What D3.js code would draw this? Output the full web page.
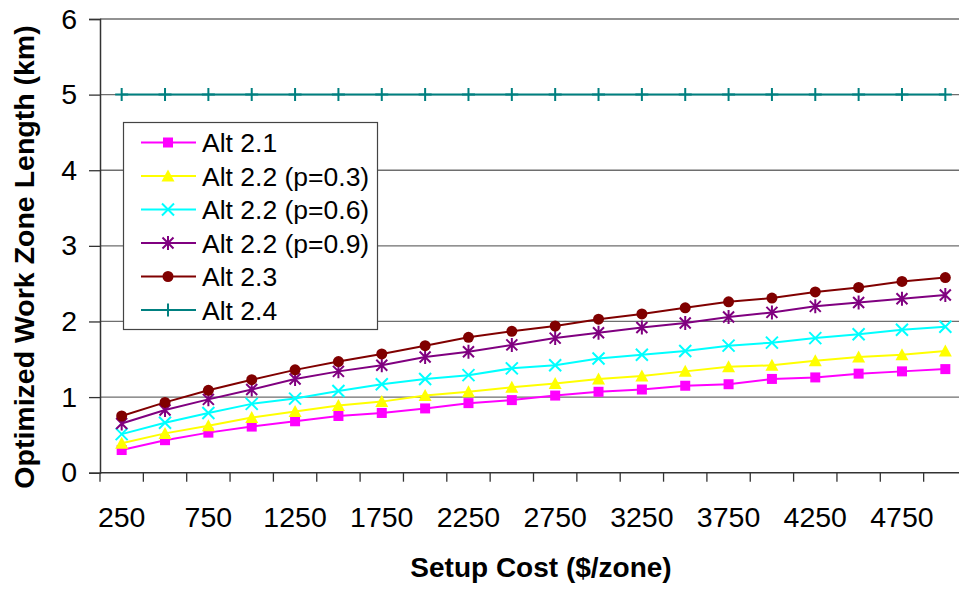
<!DOCTYPE html>
<html>
<head>
<meta charset="utf-8">
<script src="https://cdn.jsdelivr.net/npm/d3@7"></script>
<style>
  html, body { margin: 0; padding: 0; background: #fff; }
  svg { display: block; }
  text { font-family: "Liberation Sans", Arial, sans-serif; fill: #000; }
</style>
</head>
<body>
<svg id="chart" width="959" height="592"></svg>
<script>
// ---- data ----
const categories = [250, 500, 750, 1000, 1250, 1500, 1750, 2000, 2250, 2500,
                    2750, 3000, 3250, 3500, 3750, 4000, 4250, 4500, 4750, 5000];
const tickLabels = [250, 750, 1250, 1750, 2250, 2750, 3250, 3750, 4250, 4750];
const yTicks = [0, 1, 2, 3, 4, 5, 6];

const alt21 = [0.30, 0.43, 0.53, 0.61, 0.68, 0.75, 0.79, 0.85, 0.92, 0.96,
               1.02, 1.07, 1.10, 1.15, 1.17, 1.24, 1.26, 1.31, 1.34, 1.37];
const alt22p3 = [0.39, 0.52, 0.62, 0.73, 0.81, 0.89, 0.94, 1.02, 1.07, 1.13,
                 1.18, 1.24, 1.28, 1.34, 1.40, 1.42, 1.48, 1.53, 1.56, 1.61];
const alt22p6 = [0.51, 0.66, 0.79, 0.91, 0.98, 1.08, 1.17, 1.24, 1.29, 1.38,
                 1.42, 1.51, 1.56, 1.61, 1.68, 1.72, 1.78, 1.83, 1.89, 1.93];
const alt22p9 = [0.65, 0.83, 0.97, 1.10, 1.24, 1.34, 1.42, 1.53, 1.60, 1.69,
                 1.78, 1.85, 1.92, 1.98, 2.06, 2.12, 2.20, 2.25, 2.30, 2.35];
const alt23 = [0.75, 0.93, 1.09, 1.23, 1.36, 1.47, 1.57, 1.68, 1.79, 1.87,
               1.94, 2.03, 2.10, 2.18, 2.26, 2.31, 2.39, 2.45, 2.53, 2.58];
const alt24 = [5, 5, 5, 5, 5, 5, 5, 5, 5, 5, 5, 5, 5, 5, 5, 5, 5, 5, 5, 5];

const seriesNames = ["Alt 2.1", "Alt 2.2 (p=0.3)", "Alt 2.2 (p=0.6)", "Alt 2.2 (p=0.9)", "Alt 2.3", "Alt 2.4"];
const seriesValues = [alt21, alt22p3, alt22p6, alt22p9, alt23, alt24];
const seriesColors = ["#FF00FF", "#FFFF00", "#00FFFF", "#800080", "#800000", "#008080"];
const seriesMarkers = ["square", "triangle", "x", "asterisk", "circle", "plus"];

// ---- layout ----
const svg = d3.select("#chart");
const plotLeft = 100, plotRight = 967, plotTop = 19, plotBottom = 472.7;

const x = d3.scaleBand().domain(categories).range([plotLeft, plotRight]).padding(0);
const y = d3.scaleLinear().domain([0, 6]).range([plotBottom, plotTop]);

// gridlines
svg.append("g").selectAll("line").data(yTicks.filter(d => d > 0)).join("line")
  .attr("x1", plotLeft).attr("x2", plotRight)
  .attr("y1", d => y(d)).attr("y2", d => y(d))
  .attr("stroke", "#6e6e6e").attr("stroke-width", 1.3);

// y axis
const yAxis = svg.append("g").attr("transform", `translate(${plotLeft},0)`)
  .call(d3.axisLeft(y).tickValues(yTicks).tickSize(11).tickPadding(12).tickFormat(d3.format("d")));
yAxis.select(".domain").attr("stroke", "#333").attr("stroke-width", 1.5);
yAxis.selectAll(".tick line").attr("stroke", "#333").attr("stroke-width", 1.3);
yAxis.selectAll("text").style("font-size", "28.5px").attr("fill", "#000")
  .style("font-family", "'Liberation Sans', Arial, sans-serif");

// x axis: ticks at band boundaries
const xg = svg.append("g");
xg.append("line").attr("x1", plotLeft).attr("x2", plotRight).attr("y1", plotBottom).attr("y2", plotBottom)
  .attr("stroke", "#333").attr("stroke-width", 1.5);
xg.selectAll("line.tk").data(categories).join("line").attr("class", "tk")
  .attr("x1", d => x(d)).attr("x2", d => x(d))
  .attr("y1", plotBottom).attr("y2", plotBottom + 9)
  .attr("stroke", "#333").attr("stroke-width", 1.3);
xg.selectAll("text").data(tickLabels).join("text")
  .attr("x", d => x(d) + x.bandwidth() / 2)
  .attr("y", 527)
  .attr("text-anchor", "middle")
  .style("font-size", "28.5px")
  .text(d => d);

// axis titles
svg.append("text").attr("x", 541).attr("y", 577)
  .attr("text-anchor", "middle").style("font-size", "28px").style("font-weight", "bold")
  .text("Setup Cost ($/zone)");
svg.append("text").attr("transform", "translate(33.5,257) rotate(-90)")
  .attr("text-anchor", "middle").style("font-size", "28.5px").style("font-weight", "bold")
  .text("Optimized Work Zone Length (km)");

// marker drawing
function drawMarker(g, type, color) {
  if (type === "square") {
    g.append("rect").attr("x", -5).attr("y", -5).attr("width", 10).attr("height", 10).attr("fill", color);
  } else if (type === "triangle") {
    g.append("path").attr("d", "M0,-6.5L6.5,5.5L-6.5,5.5Z").attr("fill", color);
  } else if (type === "circle") {
    g.append("circle").attr("r", 5.5).attr("fill", color);
  } else if (type === "x") {
    g.append("path").attr("d", "M-6,-6L6,6M-6,6L6,-6").attr("stroke", color).attr("stroke-width", 2).attr("fill", "none");
  } else if (type === "asterisk") {
    g.append("path").attr("d", "M-5.5,-5.5L5.5,5.5M-5.5,5.5L5.5,-5.5M0,-7L0,7").attr("stroke", color).attr("stroke-width", 2).attr("fill", "none");
  } else if (type === "plus") {
    g.append("path").attr("d", "M0,-6.5L0,6.5M-6.5,0L6.5,0").attr("stroke", color).attr("stroke-width", 2).attr("fill", "none");
  }
}

const line = d3.line().x((d, i) => x(categories[i]) + x.bandwidth() / 2).y(d => y(d));

seriesValues.forEach((vals, si) => {
  const g = svg.append("g");
  g.append("path").datum(vals).attr("d", line)
    .attr("fill", "none").attr("stroke", seriesColors[si]).attr("stroke-width", 2);
  vals.forEach((v, i) => {
    const mg = g.append("g").attr("transform", `translate(${x(categories[i]) + x.bandwidth() / 2},${y(v)})`);
    drawMarker(mg, seriesMarkers[si], seriesColors[si]);
  });
});

// legend
const lg = svg.append("g");
lg.append("rect").attr("x", 123.5).attr("y", 122.5).attr("width", 254).attr("height", 207)
  .attr("fill", "#fff").attr("stroke", "#444").attr("stroke-width", 1.2);
seriesNames.forEach((name, i) => {
  const cy = 142.5 + i * 33.5;
  lg.append("line").attr("x1", 141).attr("x2", 196).attr("y1", cy).attr("y2", cy)
    .attr("stroke", seriesColors[i]).attr("stroke-width", 2);
  drawMarker(lg.append("g").attr("transform", `translate(168,${cy})`), seriesMarkers[i], seriesColors[i]);
  lg.append("text").attr("x", 202).attr("y", cy + 9.5).style("font-size", "26.5px").text(name);
});
</script>
</body>
</html>
